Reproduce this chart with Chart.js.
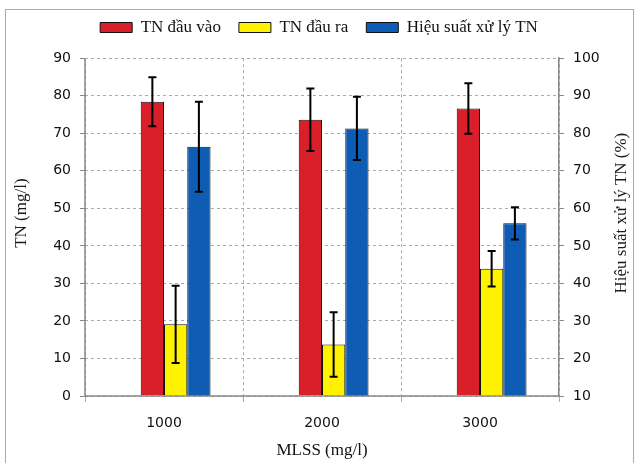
<!DOCTYPE html>
<html>
<head>
<meta charset="utf-8">
<script src="https://cdn.jsdelivr.net/npm/chart.js@4/dist/chart.umd.min.js"></script>
<style>
  body { margin: 0; background: #fff; }
  #wrap { position: relative; width: 638px; height: 463px; overflow: hidden; }
  #frame { position: absolute; left: 5px; top: 9px; width: 627px; height: 470px; border: 1px solid #aaa; }
  canvas { position: absolute; left: 0; top: 0; }
</style>
</head>
<body>
<div id="wrap">
  <div id="frame"></div>
  <canvas id="myChart" width="638" height="463"></canvas>
</div>
<script>
var mlssLabels = ['1000', '2000', '3000']
var tnVao = [78.4, 73.6, 76.6]
var tnVaoErr = [6.5, 8.3, 6.7]
var tnRa = [19.1, 13.7, 33.9]
var tnRaErr = [10.3, 8.6, 4.7]
var hieuSuat = [76.4, 81.3, 56.0]
var hieuSuatErr = [12.0, 8.4, 4.3]
var leftTitle = 'TN (mg/l)'
var rightTitle = 'Hiệu suất xử lý TN (%)'

var serif = '"Liberation Serif", "Times New Roman", serif'
var sans = '"DejaVu Sans", Tahoma, sans-serif'

// error bars from each dataset's own y scale, solid axis lines, and the two vertical axis titles
const errorBars = {
    id: 'errorBars',
    afterDatasetsDraw(chart) {
        const ctx = chart.ctx
        const area = chart.chartArea
        // solid left and bottom axis lines (grid dash would otherwise dash them)
        ctx.save()
        ctx.strokeStyle = '#888'
        ctx.lineWidth = 1.5
        ctx.beginPath()
        ctx.moveTo(area.left, area.top)
        ctx.lineTo(area.left, area.bottom)
        ctx.lineTo(area.right, area.bottom)
        ctx.stroke()
        ctx.restore()

        chart.data.datasets.forEach((ds, i) => {
            if (!ds.errors) return
            const meta = chart.getDatasetMeta(i)
            const scale = chart.scales[meta.yAxisID]
            meta.data.forEach((bar, j) => {
                const v = ds.data[j], e = ds.errors[j]
                const top = scale.getPixelForValue(v + e)
                const bot = scale.getPixelForValue(v - e)
                ctx.save()
                ctx.strokeStyle = '#000'
                ctx.lineWidth = 2
                ctx.beginPath()
                ctx.moveTo(bar.x, top); ctx.lineTo(bar.x, bot)
                ctx.moveTo(bar.x - 4, top); ctx.lineTo(bar.x + 4, top)
                ctx.moveTo(bar.x - 4, bot); ctx.lineTo(bar.x + 4, bot)
                ctx.stroke()
                ctx.restore()
            })
        })
    },
    afterDraw(chart) {
        const ctx = chart.ctx
        const area = chart.chartArea
        const midY = (area.top + area.bottom) / 2 - 14
        ;[[22, leftTitle], [chart.width - 16, rightTitle]].forEach(([x, text]) => {
            ctx.save()
            ctx.translate(x, midY)
            ctx.rotate(-Math.PI / 2)
            ctx.font = '17px ' + serif
            ctx.fillStyle = '#1a1a1a'
            ctx.textAlign = 'center'
            ctx.textBaseline = 'middle'
            ctx.fillText(text, 0, 0)
            ctx.restore()
        })
    }
}

let ctx = document.getElementById('myChart').getContext('2d')
let myChart = new Chart(ctx, {
    type: 'bar',
    data: {
        labels: mlssLabels,
        datasets: [{
            label: 'spacer',
            data: [null, null, null],
            yAxisID: 'y'
        }, {
            label: 'TN đầu vào',
            data: tnVao,
            errors: tnVaoErr,
            backgroundColor: '#d9202a',
            borderColor: '#111',
            borderWidth: 1,
            yAxisID: 'y'
        }, {
            label: 'TN đầu ra',
            data: tnRa,
            errors: tnRaErr,
            backgroundColor: '#fff200',
            borderColor: '#111',
            borderWidth: 1,
            yAxisID: 'y'
        }, {
            label: 'Hiệu suất xử lý TN',
            data: hieuSuat,
            errors: hieuSuatErr,
            backgroundColor: '#0e5cb4',
            borderColor: '#111',
            borderWidth: 1,
            yAxisID: 'y1'
        }]
    },
    options: {
        responsive: false,
        animation: false,
        devicePixelRatio: 1,
        categoryPercentage: 0.589,
        barPercentage: 1,
        layout: { padding: { top: 1, left: 0, right: 0, bottom: 0 } },
        plugins: {
            legend: {
                position: 'top',
                weight: 2000,
                labels: {
                    filter: (item) => item.text !== 'spacer',
                    boxWidth: 32,
                    boxHeight: 10,
                    padding: 18,
                    color: '#111',
                    font: { family: serif, size: 17 }
                }
            },
            // empty spacer between the legend and the plot
            subtitle: {
                display: true,
                text: '',
                weight: 500,
                font: { size: 1 },
                padding: { top: 0, bottom: 11 }
            },
            tooltip: { enabled: false }
        },
        scales: {
            x: {
                grid: {
                    offset: true,
                    color: '#aaa',
                    tickLength: 6
                },
                border: { display: false, dash: [3, 3] },
                ticks: { color: '#111', font: { family: sans, size: 14 }, padding: 13 },
                title: {
                    display: true,
                    text: 'MLSS (mg/l)',
                    color: '#111',
                    font: { family: serif, size: 17 },
                    padding: { top: 0, bottom: 2 }
                },
                afterFit: (s) => { s.height = 67 }
            },
            y: {
                position: 'left',
                min: 0,
                max: 90,
                ticks: { stepSize: 10, color: '#111', font: { family: sans, size: 14 }, padding: 9 },
                grid: { color: '#aaa', tickLength: 5, tickBorderDash: [], tickColor: '#888' },
                border: { display: false, dash: [3, 3] },
                afterFit: (s) => { s.width = 85 }
            },
            y1: {
                position: 'right',
                min: 10,
                max: 100,
                ticks: { stepSize: 10, color: '#111', font: { family: sans, size: 14 }, padding: 9 },
                grid: { drawOnChartArea: false, color: '#888', tickLength: 5 },
                border: { color: '#888', width: 1.5 },
                afterFit: (s) => { s.width = 79 }
            }
        }
    },
    plugins: [errorBars]
})
</script>
</body>
</html>
